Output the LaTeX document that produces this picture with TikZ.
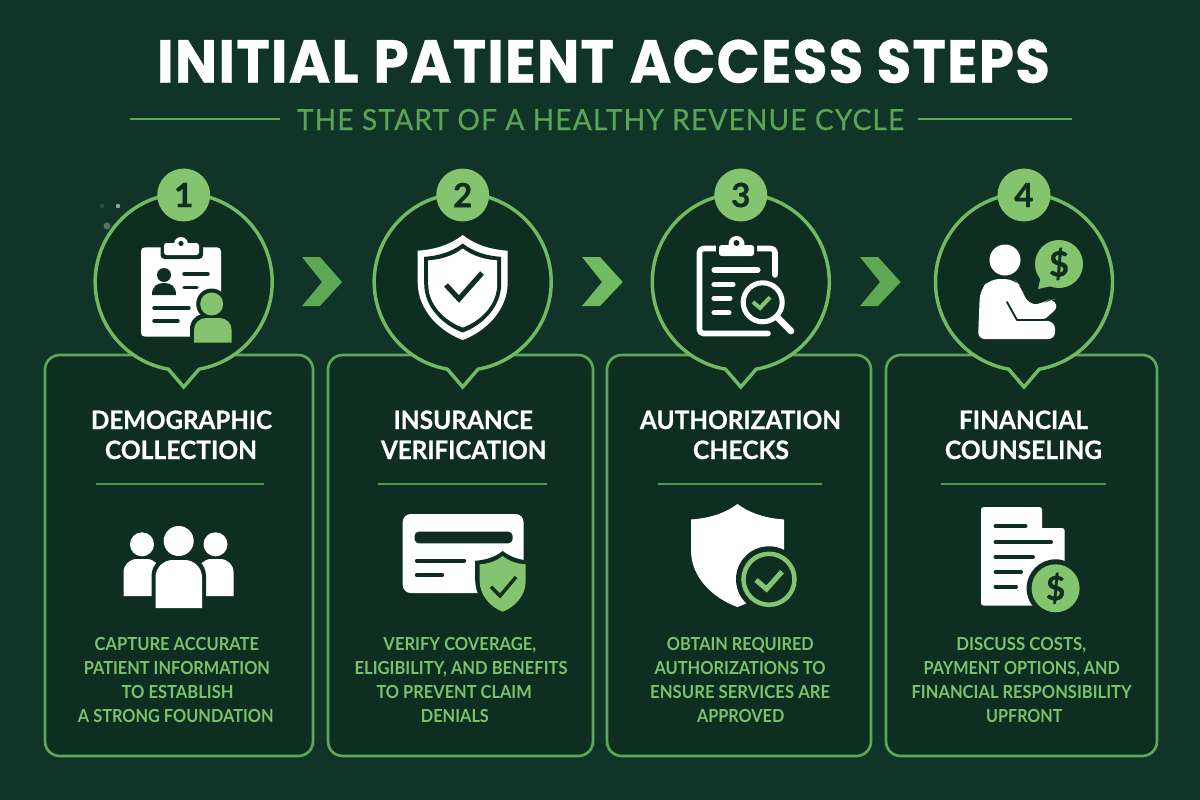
\documentclass[tikz,border=0pt]{standalone}
\usepackage{fontspec}
\usepackage{graphicx}
\setmainfont{Lato}
\newfontfamily\ttlfont[LetterSpace=2,BoldFeatures={FakeBold=0.5}]{Poppins}
\newfontfamily\labfont{Lato}
\newfontfamily\hdfont[BoldFeatures={FakeBold=0.7}]{Lato}
\newfontfamily\sbfont[FakeBold=0.5,LetterSpace=4]{Lato}
\definecolor{bgc}{HTML}{103428}
\definecolor{darkc}{HTML}{0D2E21}
\definecolor{ringc}{HTML}{70BA62}
\definecolor{badgec}{HTML}{85C46E}
\definecolor{cardc}{HTML}{5CA854}
\definecolor{subc}{HTML}{5AA555}
\definecolor{bodyc}{HTML}{7DC16B}
\definecolor{hrc}{HTML}{4F9A4C}
\tikzset{
  cardbox/.style={draw=cardc,fill=darkc,line width=2pt,rounded corners=11pt,inner sep=0pt,outer sep=0pt},
  ringshape/.style={draw=ringc,fill=darkc,line width=2.6pt,line join=miter},
  badge/.style={circle,fill=badgec,minimum size=39.7pt,inner sep=0pt,font=\hdfont\fontsize{25}{25}\selectfont\bfseries,text=darkc},
  chev/.style={fill=#1},
  ttl/.style={text=white,inner sep=0pt,anchor=base,font=\ttlfont\fontsize{45.5}{46}\selectfont\bfseries},
  sbt/.style={text=subc,inner sep=0pt,anchor=base,font=\sbfont\fontsize{21.8}{22}\selectfont},
  hd/.style={text=white,inner sep=0pt,anchor=base,font=\hdfont\fontsize{19}{20}\selectfont\bfseries},
  bd/.style={text=bodyc,inner sep=0pt,anchor=base,font=\labfont\fontsize{13.5}{14}\selectfont\bfseries},
  hr/.style={draw=hrc,line width=1.1pt},
  sublinestyle/.style={draw=cardc,line width=1.5pt},
  wstroke/.style={draw=white,line cap=round,line join=round},
  dstroke/.style={draw=darkc,line cap=round,line join=round},
  gstroke/.style={draw=badgec,line cap=round,line join=round},
  dollar/.style={text=darkc,inner sep=0pt,font=\hdfont\fontsize{#1}{#1}\selectfont\bfseries},
}
\newcommand\tx[6]{\node[#1] (#2) at ({(#3+#4)/2},#5) {\resizebox{\dimexpr(#4pt-#3pt)*3/4\relax}{\height}{#6}};}
\newcommand\cardat[3]{\node[cardbox,minimum width={(#3-#2)*0.75pt},minimum height=300.75pt] (#1) at ({(#2+#3)/2},555.5) {};}
\newcommand\pin[5]{% name cx cy number
  \draw[ringshape,shift={(#2,#3)}] (0,105) -- (80:88.5) arc[start angle=80,end angle=-260,radius=88.5] -- cycle;
  \node[badge] (#1) at (#2,195) {#4};}
\newcommand\chevat[3]{\fill[chev=#3] (#1,257) -- (#1+18,257) -- (#2,282) -- (#1+18,306) -- (#1,306) -- (#1+20,282) -- cycle;}
% shield: fill options, cx, top, halfwidth, height
\newcommand\shieldp[5]{\path[#1,shift={(#2,#3)},xscale=#4,yscale=#5] (0,0) .. controls (.3,.1) and (.65,.14) .. (1,.15) -- (1,.45) .. controls (1,.72) and (.5,.92) .. (0,1) .. controls (-.5,.92) and (-1,.72) .. (-1,.45) -- (-1,.15) .. controls (-.65,.14) and (-.3,.1) .. (0,0) -- cycle;}
\newcommand\bust[6]{\path[#1] (#2,#5) [rounded corners=#6pt] -- (#2,#4) -- (#3,#4) [sharp corners] -- (#3,#5) -- cycle;}
\begin{document}
\begin{tikzpicture}[x=0.75pt,y=-0.75pt]
\useasboundingbox (0,0) rectangle (1200,800);
\fill[bgc] (0,0) rectangle (1200,800);
% heading
\tx{ttl}{title}{157}{1050}{82.7}{INITIAL\hspace{1.5pt} PATIENT\hspace{2pt} ACCESS STEPS}
\tx{sbt}{subtitle}{297}{904}{130}{THE START OF A HEALTHY REVENUE CYCLE}
\coordinate (sl1) at (130,119); \coordinate (sl2) at (280,119);
\coordinate (sr1) at (918,119); \coordinate (sr2) at (1072,119);
\draw[sublinestyle] (sl1) -- (sl2);
\draw[sublinestyle] (sr1) -- (sr2);
% sparkle
\fill[white,opacity=.55] (118,206) circle (2.2);
\fill[white,opacity=.3] (107,226) circle (3.5);
\fill[white,opacity=.12] (102,206) circle (2.2);
% cards
\cardat{card1}{45}{313}
\cardat{card2}{328}{593}
\cardat{card3}{607}{871}
\cardat{card4}{886}{1157}
% pins
\pin{n1}{183.7}{282}{1}{}
\pin{n2}{462.7}{282}{2}{}
\pin{n3}{740.8}{282}{3}{}
\pin{n4}{1024}{282}{4}{}
% chevrons
\chevat{302}{342}{cardc}
\chevat{582}{622.7}{ringc}
\chevat{860}{900.7}{cardc}
% ---- icon 1
\fill[white,rounded corners=3pt] (141,247.3) rectangle (221,336.7);
\fill[darkc,rounded corners=3pt] (160.5,244) rectangle (203,259);
\fill[white,rounded corners=2pt] (164,243) rectangle (199,255);
\fill[white] (181,244) circle (7);
\fill[darkc] (181,243.5) circle (2.6);
\fill[darkc] (164,275) circle (7);
\path[fill=darkc] (152,295) .. controls (152,286) and (157,283) .. (164,283) .. controls (171,283) and (176,286) .. (176,295) -- cycle;
\draw[dstroke,line width=2.6pt] (184,274) -- (208,274);
\draw[dstroke,line width=2.6pt] (184,287.5) -- (197,287.5);
\draw[dstroke,line width=2.6pt] (154,308) -- (189,308);
\draw[dstroke,line width=2.6pt] (154,321) -- (178,321);
\fill[darkc] (211.7,304) circle (15.5);
\bust{fill=darkc}{190}{236}{314}{346}{11}
\fill[badgec] (211.7,304) circle (11.5);
\bust{fill=badgec}{194}{231.7}{318}{342.5}{9}
% ---- icon 2
\shieldp{fill=white}{462.7}{235}{45}{105}
\shieldp{fill=darkc}{462.7}{243.5}{38.5}{89}
\shieldp{fill=white}{462.7}{248.5}{34.5}{79}
\draw[dstroke,line width=3.8pt,line cap=butt,line join=miter] (446,285) -- (459,299) -- (482,273);
% ---- icon 3
\draw[wstroke,line width=4.2pt,rounded corners=3pt] (775,275) -- (775,248.5) -- (699.5,248.5) -- (699.5,333.5) -- (768,333.5);
\fill[darkc,rounded corners=2pt] (716,238) rectangle (757,258);
\fill[white,rounded corners=2pt] (719,245) rectangle (754,256);
\fill[white] (736.5,244) circle (8);
\fill[darkc] (736.5,243) circle (3);
\draw[wstroke,line width=3.8pt] (714,270) -- (758,270);
\draw[wstroke,line width=3.8pt] (714,284.5) -- (733,284.5);
\draw[wstroke,line width=3.8pt] (714,298.3) -- (730,298.3);
\draw[wstroke,line width=3.8pt] (714,312.7) -- (729,312.7);
\fill[darkc] (762.7,302.3) circle (26);
\draw[white,line width=3.8pt,fill=darkc] (762.7,302.3) circle (19.5);
\draw[wstroke,line width=5pt] (778,318) -- (791,331);
\draw[gstroke,line width=3pt,line cap=butt,line join=miter] (753,302) -- (760,308) -- (770,297.3);
% ---- icon 4
\fill[white] (1005,260) circle (15.5);
\path[fill=white,rounded corners=7pt] (978,339) -- (980,290) -- (990,279) -- (1014,279) -- (1021,287) -- (1028,305) -- (1042,304) -- (1047,301) [sharp corners] -- (1051,300) .. controls (1057,302) and (1058,308) .. (1054,311) -- (1046,318) -- (1040,320) [rounded corners=5pt] -- (1055,322) -- (1055,339) -- cycle;
\draw[darkc,line width=1.4pt,line cap=round,line join=round] (1007,302) -- (1017,320) -- (1045,320);
\fill[badgec] (1059,264) circle (24);
\fill[badgec] (1038,289) -- (1042,272) -- (1056,285) -- cycle;
\node[dollar=26] (d1) at (1059,264) {\$};
% ---- demographic people
\fill[white] (178.7,541) circle (15);
\fill[white] (142,544.3) circle (12);
\fill[white] (215.5,544.3) circle (12);
\bust{fill=white}{123.5}{160}{559}{596}{10}
\bust{fill=white}{198}{233.6}{559}{596}{10}
\bust{fill=darkc}{151.5}{206}{556}{612}{15}
\bust{fill=white}{155.5}{202}{560}{608}{13}
% ---- insurance card
\fill[white,rounded corners=6pt] (402.7,514) rectangle (523.5,593);
\fill[darkc,rounded corners=3pt] (414.7,531.7) rectangle (512.5,543.3);
\draw[dstroke,line width=3.3pt] (417,560.7) -- (464,560.7);
\draw[dstroke,line width=3.3pt] (417,575) -- (442,575);
\shieldp{fill=darkc}{502.7}{551}{27.5}{65}
\shieldp{fill=badgec}{502.7}{556}{23}{55.7}
\draw[dstroke,line width=2.6pt,line cap=butt,line join=miter] (491,586.7) -- (500,596) -- (516,577);
% ---- authorization shield
\shieldp{fill=white}{737.5}{504}{46.5}{103}
\fill[darkc] (769,579.3) circle (33);
\draw[badgec,line width=3.4pt,fill=darkc] (769,579.3) circle (25.5);
\draw[gstroke,line width=3.8pt,line cap=butt,line join=miter] (756,580) -- (766.5,589) -- (782,571.7);
% ---- financial document
\path[fill=white,rounded corners=2pt] (981,605.7) -- (981,507) -- (1042,507) [sharp corners] -- (1042,528) [rounded corners=2pt] -- (1064.7,528) -- (1064.7,605.7) -- cycle;
\draw[dstroke,line width=3pt] (995.5,526) -- (1025.5,526);
\draw[dstroke,line width=3pt] (995.5,542) -- (1051,542);
\draw[dstroke,line width=3pt] (995.5,557) -- (1033,557);
\draw[dstroke,line width=3pt] (995.5,572) -- (1021,572);
\draw[dstroke,line width=3pt] (995.5,586.5) -- (1016,586.5);
\fill[darkc] (1055.6,588.3) circle (29);
\fill[badgec] (1055.6,588.3) circle (24);
\node[dollar=25] (d2) at (1055.6,588.3) {\$};
% ---- card titles
\tx{hd}{h1a}{91}{272}{429}{DEMOGRAPHIC}
\tx{hd}{h1b}{105}{257}{459}{COLLECTION}
\tx{hd}{h2a}{393.6}{533}{429}{INSURANCE}
\tx{hd}{h2b}{381}{546.4}{459}{VERIFICATION}
\tx{hd}{h3a}{640}{841}{429}{AUTHORIZATION}
\tx{hd}{h3b}{693}{789}{459}{CHECKS}
\tx{hd}{h4a}{959}{1088}{429}{FINANCIAL}
\tx{hd}{h4b}{945}{1102}{459}{COUNSELING}
\draw[hr] (96.4,484) -- (264,484);
\draw[hr] (377.5,484) -- (547,484);
\draw[hr] (658,484) -- (822,484);
\draw[hr] (941,484) -- (1106,484);
% ---- body text
\tx{bd}{b1a}{94.7}{259.1}{650}{CAPTURE ACCURATE}
\tx{bd}{b1b}{83.8}{270}{674}{PATIENT INFORMATION}
\tx{bd}{b1c}{121.6}{233.6}{698}{TO ESTABLISH}
\tx{bd}{b1d}{78}{273.6}{722}{A STRONG FOUNDATION}
\tx{bd}{b2a}{383.5}{536.2}{650}{VERIFY COVERAGE,}
\tx{bd}{b2b}{354.7}{567.5}{674}{ELIGIBILITY, AND BENEFITS}
\tx{bd}{b2c}{376.5}{531.8}{698}{TO PREVENT CLAIM}
\tx{bd}{b2d}{420.9}{488.9}{722}{DENIALS}
\tx{bd}{b3a}{666.9}{813.8}{650}{OBTAIN REQUIRED}
\tx{bd}{b3b}{654.5}{825.5}{674}{AUTHORIZATIONS TO}
\tx{bd}{b3c}{650.2}{830.2}{698}{ENSURE SERVICES ARE}
\tx{bd}{b3d}{697}{784.4}{722}{APPROVED}
\tx{bd}{b4a}{956.4}{1086.2}{650}{DISCUSS COSTS,}
\tx{bd}{b4b}{923.6}{1120}{674}{PAYMENT OPTIONS, AND}
\tx{bd}{b4c}{911.6}{1131.6}{698}{FINANCIAL RESPONSIBILITY}
\tx{bd}{b4d}{986.2}{1062.5}{722}{UPFRONT}
\end{tikzpicture}
\end{document}
